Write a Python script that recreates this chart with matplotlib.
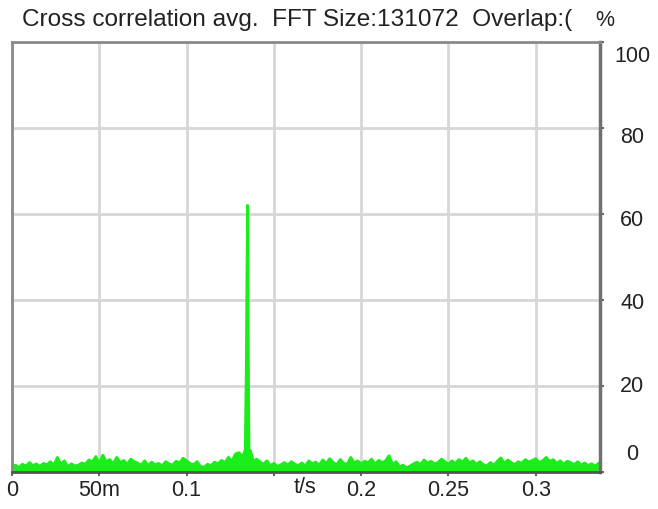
import numpy as np
import matplotlib
matplotlib.use("Agg")
import matplotlib.pyplot as plt
from matplotlib.patches import Rectangle

plt.rcParams["font.family"] = ["Liberation Sans", "DejaVu Sans"]

TITLE = "Cross correlation avg.  FFT Size:131072  Overlap:("
UNIT = "%"
X_LABEL = "t/s"

# noise floor, one value every 2 ms from 0 to 0.336 s (percent)
NOISE_STEP = 0.002
noise_vals = [
    1.2, 1.6, 1.0, 1.8, 1.4, 2.2, 1.5, 1.9, 1.3, 2.0,
    1.7, 2.4, 1.6, 3.4, 1.8, 2.6, 1.2, 1.9, 1.4, 1.6,
    2.1, 1.8, 2.8, 2.3, 3.6, 2.0, 3.9, 2.4, 2.9, 1.9,
    3.4, 2.2, 2.7, 1.8, 3.0, 2.4, 2.1, 1.6, 2.6, 1.5,
    2.3, 1.7, 2.0, 1.4, 2.4, 1.9, 1.6, 2.5, 2.1, 3.2,
    2.6, 2.0, 1.7, 2.4, 1.3, 1.1, 1.8, 1.5, 2.3, 1.9,
    2.7, 2.2, 3.4, 2.5, 4.2, 4.5, 0.0, 0.0, 0.0, 0.0,
    3.0, 2.4, 1.8, 2.6, 1.5, 2.0, 1.3, 1.7, 2.2, 1.6,
    2.4, 1.8, 1.5, 2.1, 1.4, 2.6, 1.9, 2.3, 1.6, 2.8,
    2.0, 3.1, 2.2, 1.7, 2.9, 2.0, 1.8, 3.4, 2.1, 2.6,
    1.9, 2.5, 2.2, 3.0, 1.8, 2.7, 2.2, 2.6, 3.8, 1.7,
    2.4, 1.2, 1.6, 1.0, 1.4, 1.9, 2.3, 1.7, 2.8, 2.1,
    2.5, 1.9, 2.2, 3.0, 2.4, 1.8, 2.6, 2.0, 2.9, 2.3,
    3.2, 2.1, 2.6, 1.8, 2.4, 1.7, 1.4, 2.2, 1.6, 2.5,
    3.3, 2.0, 2.8, 2.2, 1.7, 2.4, 2.0, 2.9, 2.3, 2.7,
    3.1, 2.2, 2.6, 3.4, 2.4, 2.9, 2.0, 2.6, 1.8, 2.5,
    2.2, 1.7, 2.4, 1.6, 2.1, 1.5, 1.9, 1.4, 2.0,
]
# noise samples inside this window are replaced by the peak samples
PEAK_GAP = (0.1315, 0.1395)

# main correlation peak (s, percent)
peak_t = [0.1320, 0.1328, 0.1336, 0.1342, 0.1346, 0.1350, 0.1354, 0.1358,
          0.1364, 0.1370, 0.1378, 0.1386, 0.1394]
peak_vals = [3.6, 4.3, 5.2, 24.0, 47.0, 62.0, 25.0, 1.8,
             5.0, 4.4, 3.2, 2.6, 1.9]

x_ticks = [0.0, 0.05, 0.1, 0.15, 0.2, 0.25, 0.3]
x_tick_labels = ["0", "50m", "0.1", "", "0.2", "0.25", "0.3"]
y_ticks = [0, 20, 40, 60, 80, 100]
# where the right-hand labels actually sit (they are spread, not on the grid)
y_label_pos = [4.0, 19.8, 39.3, 58.6, 77.7, 96.7]

X_MAX = 0.3368
FS = 15.5

noise_t = np.arange(len(noise_vals)) * NOISE_STEP
keep = [(t, v) for t, v in zip(noise_t, noise_vals) if not (PEAK_GAP[0] < t < PEAK_GAP[1])]
pts = sorted(keep + list(zip(peak_t, peak_vals)))
t_all = np.array([p[0] for p in pts])
v_all = np.array([p[1] for p in pts])

fig = plt.figure(figsize=(6.58, 5.09), dpi=100)
ax = fig.add_axes([12 / 658, 1 - 472 / 509, 588 / 658, 430 / 509])

green = "#19ee19"
ax.fill_between(t_all, 0, v_all, color=green, linewidth=0)
ax.plot(t_all, v_all, color=green, linewidth=2.0)

ax.set_xlim(0, X_MAX)
ax.set_ylim(0, 100)

ax.set_xticks(x_ticks)
ax.set_xticklabels(x_tick_labels, fontsize=FS, color="#222222")
ax.tick_params(axis="x", direction="out", length=3, width=1.5, color="#666666", pad=3)
ax.text(0.1678, -0.012, X_LABEL, transform=ax.get_xaxis_transform(),
        ha="center", va="top", fontsize=FS, color="#222222")

ax.yaxis.tick_right()
ax.set_yticks(y_ticks)
ax.set_yticklabels([])
ax.tick_params(axis="y", direction="out", length=3, width=1.5, color="#666666")
for pos, lab in zip(y_label_pos, y_ticks):
    ax.text(1.055, pos, str(lab), transform=ax.get_yaxis_transform(),
            ha="center", va="center", fontsize=FS, color="#222222")

ax.grid(True, color="#d6d6d6", linewidth=2)
ax.set_axisbelow(True)

for side, col, lw in [("left", "#8a8a8a", 2), ("top", "#8a8a8a", 2),
                      ("right", "#707070", 2.5), ("bottom", "#555555", 2)]:
    ax.spines[side].set_color(col)
    ax.spines[side].set_linewidth(lw)

title = fig.text(22 / 658, 1 - 20 / 509, TITLE, ha="left", va="center",
                 fontsize=17.6, color="#222222")
title.set_clip_path(Rectangle((0, 0), 579 / 658, 1, transform=fig.transFigure))
fig.text(605 / 658, 1 - 20 / 509, UNIT, ha="center", va="center",
         fontsize=FS, color="#222222")

fig.savefig("out.png", dpi=100, facecolor="white")
